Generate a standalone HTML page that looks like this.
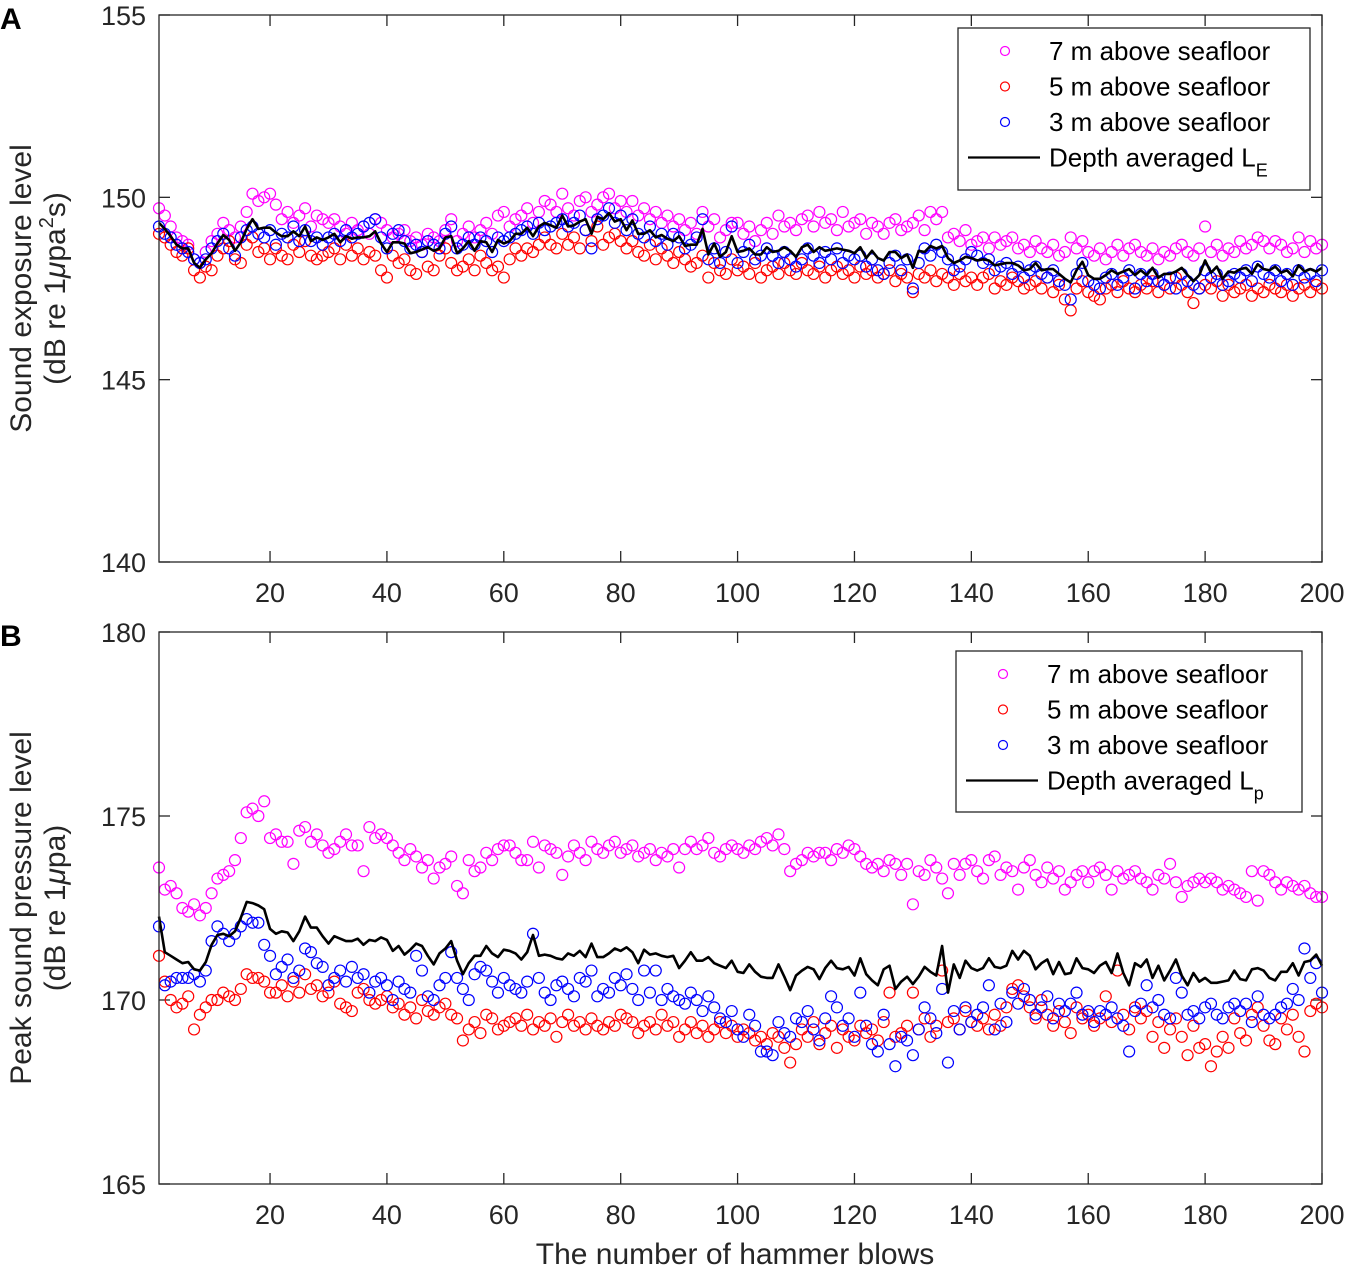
<!DOCTYPE html>
<html><head><meta charset="utf-8"><style>
html,body{margin:0;padding:0;background:#fff;}
svg{display:block;font-family:"Liberation Sans",Arial,sans-serif;}
</style></head><body>
<svg id="chart" width="1350" height="1271" viewBox="0 0 1350 1271" xmlns="http://www.w3.org/2000/svg"></svg>
<script>
const xTicks = [20,40,60,80,100,120,140,160,180,200];
const aTicks = [140,145,150,155];
const bTicks = [165,170,175,180];
const seriesNames = ["7 m above seafloor","5 m above seafloor","3 m above seafloor"];
const A7 = [149.7,149.5,149.2,148.9,148.8,148.7,148.3,148.2,148.5,148.8,149.0,149.3,149.1,148.9,149.2,149.6,150.1,149.9,150.0,150.1,149.8,149.4,149.6,149.3,149.5,149.7,149.2,149.5,149.4,149.3,149.4,149.2,149.0,149.3,149.1,149.2,149.0,149.4,149.3,149.1,148.9,149.0,149.1,148.8,148.9,148.7,149.0,148.9,148.8,149.1,149.4,148.8,149.0,149.2,148.9,149.1,149.3,149.0,149.5,149.6,149.2,149.4,149.5,149.7,149.3,149.6,149.9,149.8,149.6,150.1,149.7,149.5,149.9,150.0,149.6,149.8,150.0,150.1,149.7,149.9,149.6,149.9,149.5,149.7,149.4,149.6,149.3,149.5,149.2,149.4,149.1,149.3,149.0,149.6,149.2,149.4,148.9,149.1,149.3,149.3,149.0,149.2,148.8,149.1,149.3,149.0,149.5,149.2,149.3,149.1,149.4,149.5,149.2,149.6,149.3,149.4,149.1,149.6,149.2,149.3,149.4,149.0,149.3,149.2,149.0,149.3,149.4,149.1,149.2,149.3,149.5,149.1,149.6,149.4,149.6,148.9,149.0,148.8,149.1,148.7,148.8,148.9,148.6,148.9,148.7,148.8,148.9,148.6,148.7,148.5,148.8,148.6,148.5,148.7,148.4,148.5,148.9,148.6,148.8,148.5,148.4,148.6,148.3,148.5,148.7,148.4,148.6,148.7,148.5,148.4,148.6,148.3,148.5,148.4,148.6,148.7,148.5,148.4,148.6,149.2,148.5,148.7,148.4,148.6,148.5,148.8,148.6,148.7,148.9,148.8,148.6,148.8,148.7,148.5,148.6,148.9,148.5,148.8,148.6,148.7];
const A5 = [149.0,148.9,148.7,148.5,148.4,148.6,148.0,147.8,148.1,148.0,148.4,148.6,148.8,148.3,148.2,148.7,148.9,148.5,148.6,148.3,148.6,148.4,148.3,148.7,148.5,148.8,148.4,148.3,148.4,148.5,148.6,148.3,148.7,148.4,148.6,148.3,148.5,148.4,148.0,147.8,148.4,148.2,148.3,148.0,147.9,148.5,148.1,148.0,148.4,148.6,148.2,148.0,148.1,148.3,148.0,148.4,148.2,148.0,148.1,147.8,148.3,148.6,148.4,148.6,148.5,148.7,148.9,148.7,148.6,149.0,148.7,148.9,148.6,149.1,148.8,149.2,148.7,148.9,149.0,148.8,148.6,148.8,148.5,148.4,148.7,148.3,148.6,148.4,148.2,148.5,148.3,148.1,148.2,148.4,147.8,148.2,148.0,147.9,148.3,148.0,148.1,147.9,148.2,147.8,148.0,148.1,147.9,148.2,148.0,147.9,148.2,148.0,147.9,148.1,147.8,148.0,148.1,147.9,148.0,147.8,148.1,147.9,148.0,147.8,147.9,148.0,147.7,147.9,147.8,147.4,147.9,147.8,148.0,147.7,147.9,147.8,147.6,147.9,147.7,147.8,147.6,147.8,147.9,147.5,147.7,147.6,147.8,147.7,147.5,147.6,147.7,147.5,147.8,147.4,147.6,147.2,146.9,147.5,147.7,147.4,147.3,147.2,147.5,147.6,147.4,147.7,147.5,147.4,147.6,147.5,147.7,147.4,147.6,147.5,147.8,147.6,147.4,147.1,147.5,147.6,147.5,147.7,147.3,147.6,147.4,147.5,147.6,147.3,147.5,147.4,147.6,147.5,147.4,147.6,147.3,147.5,147.6,147.4,147.6,147.5];
const A3 = [149.2,149.0,148.9,148.7,148.6,148.5,148.3,148.2,148.3,148.6,148.8,149.0,148.6,148.4,148.9,149.1,149.2,149.0,148.9,149.1,148.7,149.0,148.9,149.2,148.8,149.1,148.8,148.9,148.7,148.9,149.0,148.8,149.1,148.9,149.0,149.2,149.3,149.4,148.9,148.6,149.0,149.1,148.8,148.6,148.7,148.5,148.8,148.7,148.6,149.0,149.2,148.6,148.7,148.9,148.7,148.9,148.8,148.5,148.9,148.8,148.9,149.0,149.1,149.2,149.0,149.3,149.1,149.2,149.3,149.4,149.2,149.3,149.5,149.1,148.6,149.4,149.5,149.7,149.3,149.5,149.1,149.4,149.0,148.9,149.2,148.8,149.0,148.7,149.0,148.9,148.6,148.7,148.9,149.4,148.3,148.6,148.2,148.5,149.2,148.2,148.5,148.7,148.3,148.4,148.6,148.4,148.2,148.5,148.3,148.1,148.3,148.6,148.4,148.2,148.5,148.3,148.6,148.2,148.4,148.3,148.4,148.1,148.3,148.0,147.9,148.2,148.4,148.0,148.3,147.5,148.2,148.6,148.4,148.7,148.5,148.3,148.0,148.1,148.3,148.5,148.4,148.2,148.3,148.0,148.1,148.2,147.9,148.1,147.8,148.0,148.1,147.9,147.8,148.0,147.7,147.6,147.2,147.9,148.2,147.7,147.6,147.5,147.8,147.9,147.6,147.8,148.0,147.5,147.9,147.7,147.9,147.7,147.6,147.8,147.5,147.9,147.7,147.6,147.5,148.0,147.8,147.9,147.6,147.7,147.9,147.8,148.0,147.7,148.1,147.9,147.8,148.0,147.7,147.9,147.6,148.0,147.8,147.9,147.7,148.0];
const B7 = [173.6,173.0,173.1,172.9,172.5,172.4,172.6,172.3,172.5,172.9,173.3,173.4,173.5,173.8,174.4,175.1,175.2,175.0,175.4,174.4,174.5,174.3,174.3,173.7,174.6,174.7,174.3,174.5,174.2,174.0,174.1,174.3,174.5,174.2,174.2,173.5,174.7,174.4,174.5,174.4,174.2,174.0,173.8,174.1,173.9,173.6,173.8,173.3,173.6,173.7,173.9,173.1,172.9,173.8,173.5,173.6,174.0,173.8,174.1,174.2,174.2,174.0,173.8,173.8,174.3,173.6,174.2,174.1,174.0,173.4,173.9,174.2,174.0,173.8,174.3,174.1,174.0,174.2,174.3,174.0,174.1,174.2,173.9,174.0,174.1,173.8,174.0,173.9,174.1,173.6,174.1,174.3,174.1,174.2,174.4,174.0,173.9,174.1,174.2,174.1,174.0,174.2,174.1,174.3,174.4,174.2,174.5,174.1,173.5,173.7,173.8,174.0,173.9,174.0,174.0,173.8,174.1,174.0,174.2,174.1,173.9,173.7,173.6,173.7,173.5,173.8,173.7,173.4,173.7,172.6,173.5,173.4,173.8,173.6,173.3,172.9,173.7,173.4,173.7,173.8,173.5,173.3,173.8,173.9,173.4,173.6,173.5,173.0,173.6,173.8,173.4,173.2,173.6,173.3,173.5,173.0,173.2,173.4,173.5,173.2,173.5,173.6,173.4,173.0,173.5,173.3,173.4,173.5,173.3,173.2,173.0,173.4,173.3,173.7,173.2,172.8,173.1,173.2,173.3,173.2,173.3,173.2,173.0,173.1,173.0,172.9,172.8,173.5,172.7,173.5,173.4,173.2,173.0,173.2,173.1,173.0,173.1,172.9,172.8,172.8];
const B5 = [171.2,170.5,170.0,169.8,169.9,170.1,169.2,169.6,169.8,170.0,170.0,170.2,170.1,170.0,170.3,170.7,170.6,170.6,170.5,170.2,170.2,170.4,170.1,170.5,170.2,170.7,170.3,170.4,170.1,170.2,170.5,169.9,169.8,169.7,170.2,170.3,170.0,169.9,170.0,170.1,169.8,169.9,169.6,169.8,169.5,170.0,169.7,169.6,169.8,169.9,169.6,169.5,168.9,169.2,169.4,169.1,169.6,169.5,169.2,169.3,169.4,169.5,169.3,169.6,169.2,169.4,169.3,169.5,169.0,169.4,169.6,169.3,169.4,169.2,169.5,169.3,169.2,169.4,169.3,169.6,169.5,169.4,169.1,169.3,169.4,169.2,169.6,169.3,169.4,169.0,169.2,169.4,169.1,169.3,169.0,169.2,169.4,169.1,169.3,169.0,169.2,169.1,168.9,169.0,168.8,169.1,169.0,168.7,168.3,168.8,169.2,169.0,169.4,168.8,169.1,169.3,168.7,169.2,169.0,168.9,169.3,169.1,169.2,168.9,169.4,170.2,169.0,169.1,169.3,170.2,169.2,169.5,169.0,169.3,170.8,169.4,169.5,169.2,169.7,169.4,169.3,169.5,169.2,169.6,169.3,169.8,170.3,170.4,170.1,169.8,169.5,170.0,169.6,169.3,169.7,169.4,169.1,169.8,169.5,169.6,169.3,169.5,170.1,169.4,170.8,169.6,169.2,169.8,169.5,169.7,169.0,169.4,168.7,169.2,169.5,169.0,168.5,169.3,168.7,168.8,168.2,168.6,169.0,168.7,169.5,169.1,168.9,169.6,169.8,169.3,168.9,168.8,169.5,169.2,169.6,169.0,168.6,169.7,169.9,169.8];
const B3 = [172.0,170.4,170.5,170.6,170.6,170.6,170.7,170.5,170.8,171.6,172.0,171.8,171.6,171.8,172.0,172.2,172.1,172.1,171.5,171.2,170.7,170.9,171.1,170.6,170.8,171.4,171.3,171.0,170.9,170.4,170.6,170.8,170.5,170.9,170.6,170.7,170.2,170.5,170.6,170.4,170.0,170.5,170.3,170.2,171.2,170.8,170.1,170.0,170.4,170.6,171.3,170.6,170.3,170.0,170.7,170.9,170.8,170.5,170.2,170.6,170.4,170.3,170.2,170.5,171.8,170.6,170.2,170.0,170.4,170.5,170.3,170.1,170.6,170.5,170.8,170.1,170.3,170.2,170.6,170.4,170.7,170.3,170.0,170.8,170.2,170.8,170.0,170.3,170.1,170.0,169.9,170.2,170.0,169.7,170.1,169.8,169.5,169.4,169.7,169.2,169.0,169.6,169.3,168.6,168.6,168.5,169.4,169.1,169.0,169.5,169.4,169.7,169.2,168.9,169.5,170.1,169.8,169.3,169.5,169.0,170.2,169.3,168.8,168.6,169.6,168.8,168.2,169.0,168.9,168.5,169.2,169.8,169.5,169.1,170.3,168.3,169.7,169.2,169.8,169.4,169.6,169.8,170.4,169.2,169.9,169.4,170.2,169.9,170.3,170.0,169.6,169.8,170.1,169.5,169.9,169.7,169.9,170.2,169.6,169.7,169.4,169.7,169.6,169.8,169.5,169.3,168.6,169.7,169.9,170.4,169.8,170.0,169.6,169.5,170.6,170.2,169.6,169.7,169.5,169.8,169.9,169.6,169.5,169.8,169.9,169.7,169.9,169.4,170.1,169.6,169.5,169.6,169.8,169.9,170.3,170.0,171.4,170.6,171.0,170.2];

const NS = "http://www.w3.org/2000/svg";
const svg = document.getElementById('chart');
function mk(tag, attrs, parent) {
  const e = document.createElementNS(NS, tag);
  for (const k in attrs) e.setAttribute(k, attrs[k]);
  (parent || svg).appendChild(e);
  return e;
}
const X0 = 159, X1 = 1322;
function xScale(v) { return X0 + (v - 1) / 199 * (X1 - X0); }

function panel(cfg) {
  const g = mk('g', {});
  
  
  const yScale = v => cfg.top + (cfg.yMax - v) / (cfg.yMax - cfg.yMin) * (cfg.bottom - cfg.top);
  xTicks.forEach(t => {
    const x = xScale(t);
    mk('line', {x1:x, x2:x, y1:cfg.bottom, y2:cfg.bottom-11, stroke:'#262626', 'stroke-width':1.3}, g);
    mk('line', {x1:x, x2:x, y1:cfg.top, y2:cfg.top+11, stroke:'#262626', 'stroke-width':1.3}, g);
    const tx = mk('text', {x:x, y:cfg.bottom+40, 'text-anchor':'middle', 'font-size':27, fill:'#262626'}, g);
    tx.textContent = t;
    
    
  });
  cfg.ticks.forEach(t => {
    const y = yScale(t);
    mk('line', {x1:X0, x2:X0+11, y1:y, y2:y, stroke:'#262626', 'stroke-width':1.3}, g);
    mk('line', {x1:X1, x2:X1-11, y1:y, y2:y, stroke:'#262626', 'stroke-width':1.3}, g);
    const tx = mk('text', {x:X0-13, y:y+10, 'text-anchor':'end', 'font-size':27, fill:'#262626'}, g);
    tx.textContent = t;
    
    
  });
  const colors = ['#ff00ff', '#ff0000', '#0000ff'];
  cfg.series.forEach((arr, si) => {
    const sg = mk('g', {fill:'none', stroke:colors[si], 'stroke-width':1.2}, g);
    
    
    arr.forEach((v, i) => {
      const c = mk('circle', {cx:xScale(i+1), cy:yScale(v), r:5.5}, sg);
      
      
    });
  });
  let d = '';
  for (let i = 0; i < cfg.series[0].length; i++) {
    const m = (cfg.series[0][i] + cfg.series[1][i] + cfg.series[2][i]) / 3;
    d += (i ? 'L' : 'M') + xScale(i+1).toFixed(1) + ',' + yScale(m).toFixed(1);
  }
  const ln = mk('path', {d:d, fill:'none', stroke:'#000', 'stroke-width':2.6, 'stroke-linejoin':'round'}, g);
  
  
  mk('rect', {x:X0, y:cfg.top, width:X1-X0, height:cfg.bottom-cfg.top, fill:'none', stroke:'#262626', 'stroke-width':1.3}, g);
  const L = cfg.legend;
  const lg = mk('g', {}, g);
  
  
  mk('rect', {x:L.x, y:L.y, width:L.w, height:L.h, fill:'#fff', stroke:'#262626', 'stroke-width':1.3}, lg);
  seriesNames.forEach((n, i) => {
    const yy = L.y + 23 + i * 35.5;
    mk('circle', {cx:L.x+47, cy:yy, r:4.5, fill:'none', stroke:colors[i], 'stroke-width':1.2}, lg);
    const t = mk('text', {x:L.x+91, y:yy+9, 'font-size':26, fill:'#000'}, lg);
    t.textContent = n;
    
    
  });
  const yy = L.y + 23 + 3 * 35.5;
  mk('line', {x1:L.x+10, x2:L.x+82, y1:yy, y2:yy, stroke:'#000', 'stroke-width':2.2}, lg);
  const t = mk('text', {x:L.x+91, y:yy+9, 'font-size':26, fill:'#000'}, lg);
  t.innerHTML = 'Depth averaged L<tspan font-size="18" dy="10">' + cfg.sub + '</tspan>';
  
  
  const cy = (cfg.top + cfg.bottom) / 2;
  const yl = mk('text', {transform:'translate(31,'+cy+') rotate(-90)', 'text-anchor':'middle', 'font-size':30, fill:'#262626'}, g);
  yl.textContent = cfg.ylab1;
  
  
  const yl2 = mk('text', {transform:'translate(65,'+cy+') rotate(-90)', 'text-anchor':'middle', 'font-size':30, fill:'#262626'}, g);
  yl2.innerHTML = cfg.ylab2;
  
  
  const pl = mk('text', {x:0, y:cfg.top+14, 'font-size':30, 'font-weight':'bold', fill:'#000'}, g);
  pl.textContent = cfg.letter;
  
  
}

panel({name:'panel-a', letter:'A', top:15, bottom:562, yMin:140, yMax:155, ticks:aTicks,
  series:[A7, A5, A3], sub:'E',
  legend:{x:958, y:28, w:352, h:162},
  ylab1:'Sound exposure level',
  ylab2:'(dB re 1<tspan font-style="italic">μ</tspan>pa<tspan font-size="20" dy="-12">2</tspan><tspan dy="12">s)</tspan>'});
panel({name:'panel-b', letter:'B', top:632, bottom:1184, yMin:165, yMax:180, ticks:bTicks,
  series:[B7, B5, B3], sub:'p',
  legend:{x:956, y:651, w:346, h:161},
  ylab1:'Peak sound pressure level',
  ylab2:'(dB re 1<tspan font-style="italic">μ</tspan>pa)'});
const xl = mk('text', {x:735, y:1264, 'text-anchor':'middle', 'font-size':30, fill:'#262626'});
xl.textContent = 'The number of hammer blows';


</script>
</body></html>
